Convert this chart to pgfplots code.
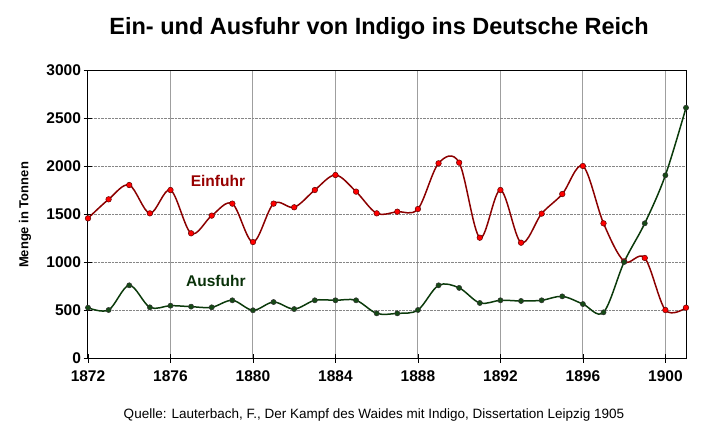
\documentclass[border=0pt]{standalone}
\usepackage{pgfplots}
\pgfplotsset{compat=1.18}
\usepackage{fontspec}
\setmainfont{Liberation Sans}
\definecolor{einred}{HTML}{8B0000}
\definecolor{einmark}{HTML}{FF0000}
\definecolor{ausgreen}{HTML}{0B3A0B}
\definecolor{ausmark}{HTML}{164A16}
\begin{document}
\begin{tikzpicture}
\path[use as bounding box] (-88pt,-79pt) rectangle (621pt,358pt);
\begin{axis}[
  at={(0pt,0pt)}, anchor=south west,
  scale only axis,
  width=598pt, height=288pt,
  xmin=1872, xmax=1901,
  ymin=0, ymax=3000,
  xtick={1872,1876,...,1900},
  ytick={0,500,...,3000},
  tick align=center,
  xtick pos=bottom, ytick pos=left,
  major tick length=9pt,
  tick style={black, line width=0.8pt},
  axis line style={black, line width=1pt},
  xmajorgrids, ymajorgrids,
  x grid style={gray!75, line width=1pt},
  y grid style={densely dotted, gray!95, line width=0.8pt},
  ticklabel style={font=\bfseries\fontsize{15.5}{18}\selectfont},
  /pgf/number format/assume math mode=true,
  /pgf/number format/1000 sep={},
  xticklabel style={yshift=-5pt},
  yticklabel style={xshift=1pt},
  clip=false,
]
\addplot[einred, line width=1.5pt, smooth, tension=0.55,
  mark=*, mark size=2.8pt, mark options={fill=einmark, draw=einred!70!black, line width=0.5pt}]
  coordinates {
  (1872,1455) (1873,1653) (1874,1802) (1875,1507) (1876,1750)
  (1877,1299) (1878,1483) (1879,1608) (1880,1208) (1881,1608)
  (1882,1570) (1883,1750) (1884,1906) (1885,1733) (1886,1507)
  (1887,1524) (1888,1552) (1889,2028) (1890,2035) (1891,1253)
  (1892,1750) (1893,1201) (1894,1504) (1895,1708) (1896,2000)
  (1897,1403) (1898,1007) (1899,1042) (1900,500) (1901,524)
};
\addplot[ausgreen, line width=1.5pt, smooth, tension=0.55,
  mark=*, mark size=2.6pt, mark options={fill=ausmark, draw=black!80, line width=0.5pt}]
  coordinates {
  (1872,524) (1873,500) (1874,757) (1875,528) (1876,545)
  (1877,535) (1878,528) (1879,601) (1880,497) (1881,583)
  (1882,510) (1883,601) (1884,601) (1885,601) (1886,465)
  (1887,465) (1888,500) (1889,757) (1890,730) (1891,573)
  (1892,601) (1893,594) (1894,601) (1895,642) (1896,562)
  (1897,476) (1898,1000) (1899,1403) (1900,1903) (1901,2607)
};
\node[font=\bfseries\fontsize{15.5}{17}\selectfont, text=einred!90!red] at (axis cs:1878.3,1844) {Einfuhr};
\node[font=\bfseries\fontsize{15.5}{17}\selectfont, text=ausgreen!85!black] at (axis cs:1878.2,802) {Ausfuhr};
\end{axis}
\node[rotate=90, font=\bfseries\fontsize{13}{15}\selectfont] at (-63pt,143pt) {Menge in Tonnen};
\node[anchor=base, font=\bfseries\fontsize{23.5}{27}\selectfont] at (291pt,323pt) {Ein- und Ausfuhr von Indigo ins Deutsche Reich};
\node[anchor=base, font=\fontsize{13.5}{16}\selectfont] at (286pt,-60pt) {Quelle: Lauterbach, F., Der Kampf des Waides mit Indigo, Dissertation Leipzig 1905};
\end{tikzpicture}
\end{document}
